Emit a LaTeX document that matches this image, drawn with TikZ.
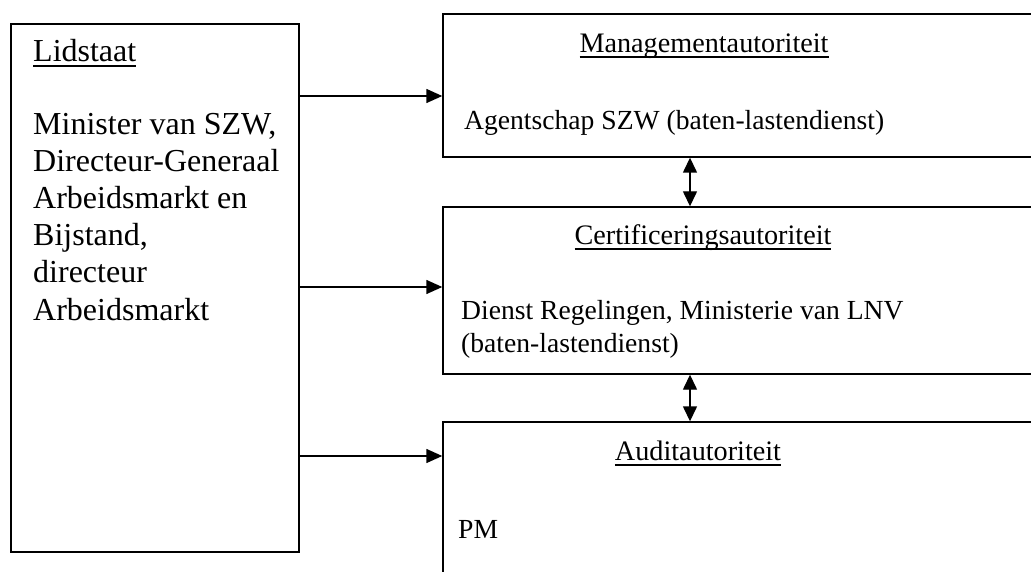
\documentclass[tikz,border=0pt]{standalone}
\usepackage{fontspec}
\setmainfont{Liberation Serif}
\usetikzlibrary{arrows.meta}
\newsavebox\ulbox
\newcommand{\uln}[1]{\sbox\ulbox{#1}\rlap{\rule[-5.5pt]{\wd\ulbox}{2pt}}\usebox\ulbox}
\tikzset{
  box/.style={draw, line width=1.4pt, inner sep=0pt},
  ltxt/.style={anchor=base west, inner sep=0pt, font=\fontsize{32}{37}\selectfont},
  rtxt/.style={anchor=base west, inner sep=0pt, font=\fontsize{27.6}{33}\selectfont},
  rtitle/.style={anchor=base, inner sep=0pt, font=\fontsize{28.2}{33}\selectfont},
  arr/.style={line width=1.4pt, -{Triangle[length=16pt,width=14pt]}},
  darr/.style={line width=1.4pt, {Triangle[length=15pt,width=14pt]}-{Triangle[length=15pt,width=14pt]}}
}
\begin{document}
\begin{tikzpicture}[x=1pt,y=-1pt]
\useasboundingbox (0,0) rectangle (1031,572);
\clip (0,0) rectangle (1031,572);
\fill[white] (0,0) rectangle (1031,572);
% boxes
\node[box, minimum width=288pt, minimum height=528pt] (lid) at (155,288) {};
\node[box, minimum width=602pt, minimum height=143pt] (mgmt) at (744,85.5) {};
\node[box, minimum width=602pt, minimum height=167pt] (cert) at (744,290.5) {};
\node[box, minimum width=602pt, minimum height=178pt] (audit) at (744,511) {};
% left texts
\node[ltxt] (lidT) at (33,62) {\uln{Lidstaat}};
\node[ltxt] (lid1) at (33,135) {Minister van SZW,};
\node[ltxt] (lid2) at (33,172) {Directeur-Generaal};
\node[ltxt] (lid3) at (33,209) {Arbeidsmarkt en};
\node[ltxt] (lid4) at (33,246) {Bijstand,};
\node[ltxt] (lid5) at (33,283) {directeur};
\node[ltxt] (lid6) at (33,320) {Arbeidsmarkt};
% right texts
\node[rtitle] (mgmtT) at (704,53) {\uln{Managementautoriteit}};
\node[rtxt] (mgmt1) at (464,130) {Agentschap SZW (baten-lastendienst)};
\node[rtitle] (certT) at (703,245) {\uln{Certificeringsautoriteit}};
\node[rtxt] (cert1) at (461,319) {Dienst Regelingen, Ministerie van LNV};
\node[rtxt] (cert2) at (461,352) {(baten-lastendienst)};
\node[rtitle] (auditT) at (698,460) {\uln{Auditautoriteit}};
\node[rtxt] (audit1) at (458,538) {PM};
% connectors
\draw[arr] (lid.east |- 0,96) -- (mgmt.west |- 0,96);
\draw[arr] (lid.east |- 0,287) -- (cert.west |- 0,287);
\draw[arr] (lid.east |- 0,456) -- (audit.west |- 0,456);
\draw[darr] (mgmt.south -| 690,0) -- (cert.north -| 690,0);
\draw[darr] (cert.south -| 690,0) -- (audit.north -| 690,0);
\end{tikzpicture}
\end{document}
